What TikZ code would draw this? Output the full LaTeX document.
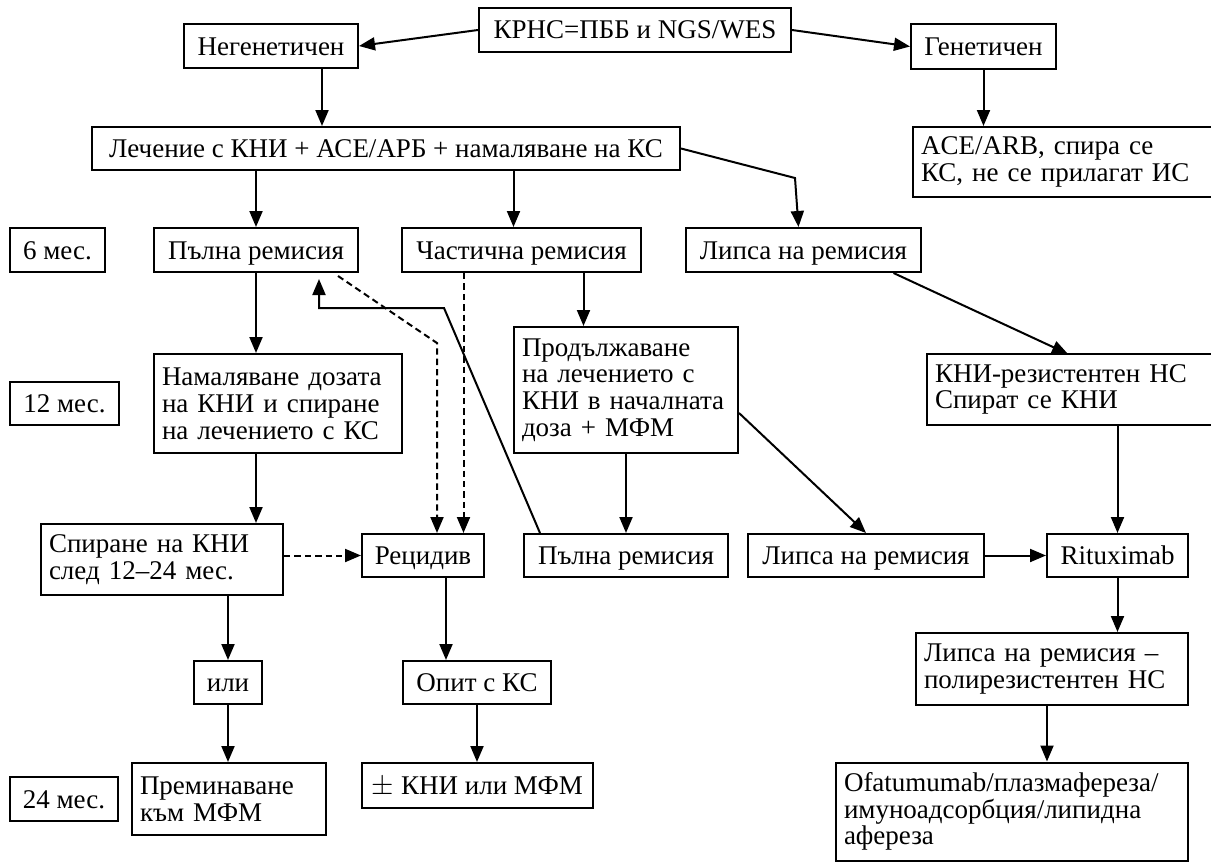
\documentclass[tikz,border=0pt]{standalone}
\usepackage{fontspec}
\setmainfont{Liberation Serif}
\usetikzlibrary{arrows.meta,calc}

\begin{document}
\begin{tikzpicture}[x=0.5pt,y=-0.5pt,
    box/.style={draw,line width=1pt,inner xsep=4pt,inner ysep=2pt,
      font=\fontsize{13.5}{13.4}\selectfont,text height=12pt,text depth=3pt},
    lbox/.style={draw,line width=1pt,inner xsep=4pt,inner ysep=2pt,
      font=\fontsize{13.5}{13.4}\selectfont,align=left},
    arr/.style={-{Triangle[length=8pt,width=6.5pt]},line width=1pt},
    darr/.style={arr,dash pattern=on 3.2pt off 2pt}]
  \useasboundingbox (0,0) rectangle (1211,862);
  % top row
  \node[box,minimum width=156pt,minimum height=22pt] (top) at (635,30) {КРНС=ПББ и NGS/WES};
  \node[box,minimum width=87pt,minimum height=22pt] (neg) at (271,46) {Негенетичен};
  \node[box,minimum width=72.5pt,minimum height=22.5pt] (gen) at (983.5,46.5) {Генетичен};
  \node[box,minimum width=294pt,minimum height=21.5pt] (treat) at (386,148.5) {Лечение с КНИ + АСЕ/АРБ + намаляване на КС};
  \node[lbox,minimum width=158.5pt,text width=150.5pt,minimum height=35pt] (ace) at (1071.5,162) {ACE/ARB, спира се\\КС, не се прилагат ИС};
  % 6 mes.
  \node[box,minimum width=47.5pt,minimum height=22pt] (m6) at (57.5,250) {6 мес.};
  \node[box,minimum width=102pt,minimum height=22pt] (full1) at (256,250) {Пълна ремисия};
  \node[box,minimum width=119.5pt,minimum height=22pt] (part) at (521.5,250) {Частична ремисия};
  \node[box,minimum width=117.5pt,minimum height=22pt] (none1) at (803.5,250) {Липса на ремисия};
  % 12 mes.
  \node[box,minimum width=54.5pt,minimum height=21.5pt] (m12) at (64.5,403.5) {12 мес.};
  \node[lbox,minimum width=124pt,text width=116pt,minimum height=49.5pt] (reduce) at (278,403.5) {Намаляване дозата\\на КНИ и спиране\\на лечението с КС};
  \node[lbox,minimum width=112pt,text width=104pt,minimum height=63pt] (cont) at (626,390) {Продължаване\\на лечението с\\КНИ в началната\\доза + МФМ};
  \node[lbox,minimum width=151.5pt,text width=143.5pt,minimum height=35.5pt] (resist) at (1078.5,389.5) {КНИ-резистентен НС\\Спират се КНИ};
  \node[lbox,minimum width=121pt,text width=113pt,minimum height=35.5pt] (stop) at (162,559.5) {Спиране на КНИ\\след 12--24 мес.};
  \node[box,minimum width=61pt,minimum height=21.5pt] (relapse) at (423,555.5) {Рецидив};
  \node[box,minimum width=102pt,minimum height=21.5pt] (full2) at (626,555.5) {Пълна ремисия};
  \node[box,minimum width=118pt,minimum height=21.5pt] (none2) at (866,555.5) {Липса на ремисия};
  \node[box,minimum width=70.5pt,minimum height=21.5pt] (ritux) at (1117.5,555.5) {Rituximab};
  \node[box,minimum width=34pt,minimum height=21.5pt] (ili) at (228,682.5) {или};
  \node[box,minimum width=74pt,minimum height=21.5pt] (trial) at (477,682.5) {Опит с КС};
  \node[lbox,minimum width=136pt,text width=128pt,minimum height=36pt] (poly) at (1052,669) {Липса на ремисия --\\полирезистентен НС};
  % 24 mes.
  \node[box,minimum width=54pt,minimum height=22pt] (m24) at (64,799) {24 мес.};
  \node[lbox,minimum width=97pt,text width=89pt,minimum height=36pt] (switch) at (229,799) {Преминаване\\към МФМ};
  \node[box,minimum width=115.5pt,minimum height=22.5pt] (pm) at (477.5,785.5) {$\pm$ КНИ или МФМ};
  \node[lbox,minimum width=176pt,text width=168pt,minimum height=49pt] (ofa) at (1012,811.5) {Ofatumumab/плазмафереза/\\имуноадсорбция/липидна\\афереза};

  \coordinate (negout) at ($(neg.south)+(51,0)$);
  \coordinate (partin) at ($(part.north)+(-8,0)$);
  \coordinate (bend1) at (795,178);
  \coordinate (nonein) at ($(none1.north)+(-5,0)$);
  \coordinate (partout) at ($(part.south)+(62,0)$);
  \coordinate (partdash) at ($(part.south)+(-58,0)$);
  \coordinate (fulldash) at ($(full1.south)+(82,3)$);
  \coordinate (bend2) at (437,343);
  \coordinate (backout) at ($(full2.north)+(-86,0)$);
  \coordinate (bend3) at (444,308);
  \coordinate (bend4) at (319,308);
  \coordinate (backin) at ($(full1.south)+(63,6)$);
  \coordinate (contout) at ($(cont.east)+(0,23)$);
  \coordinate (noneout) at ($(none1.south)+(90,0)$);
  \coordinate (resin) at (1068,354);
  \coordinate (relout) at ($(relapse.south)+(23,0)$);
  \coordinate (polyout) at ($(poly.south)+(-5,0)$);

  \draw[arr] (top.west) -- (neg.east);
  \draw[arr] (top.east) -- (gen.west);
  \draw[arr] (negout) -- (negout |- treat.north);
  \draw[arr] (gen) -- (gen |- ace.north);
  \draw[arr] (full1 |- treat.south) -- (full1);
  \draw[arr] (partin |- treat.south) -- (partin);
  \draw[arr] (treat.east) -- (bend1) -- (nonein);
  \draw[arr] (full1) -- (full1 |- reduce.north);
  \draw[arr] (full1 |- reduce.south) -- (full1 |- stop.north);
  \draw[arr] (partout) -- (partout |- cont.north);
  \draw[darr] (partdash) -- (partdash |- relapse.north);
  \draw[darr] (fulldash) -- (bend2) -- (bend2 |- relapse.north);
  \draw[arr] (backout) -- (bend3) -- (bend4) -- (backin);
  \draw[arr] (cont) -- (cont |- full2.north);
  \draw[arr] (contout) -- (none2.north);
  \draw[arr] (noneout) -- (resin);
  \draw[arr] (none2.east) -- (ritux.west);
  \draw[arr] (ritux |- resist.south) -- (ritux);
  \draw[darr] (stop.east |- relapse) -- (relapse.west);
  \draw[arr] (ili |- stop.south) -- (ili);
  \draw[arr] (ili) -- (ili |- switch.north);
  \draw[arr] (relout) -- (relout |- trial.north);
  \draw[arr] (trial) -- (trial |- pm.north);
  \draw[arr] (ritux) -- (ritux |- poly.north);
  \draw[arr] (polyout) -- (polyout |- ofa.north);
\end{tikzpicture}
\end{document}
